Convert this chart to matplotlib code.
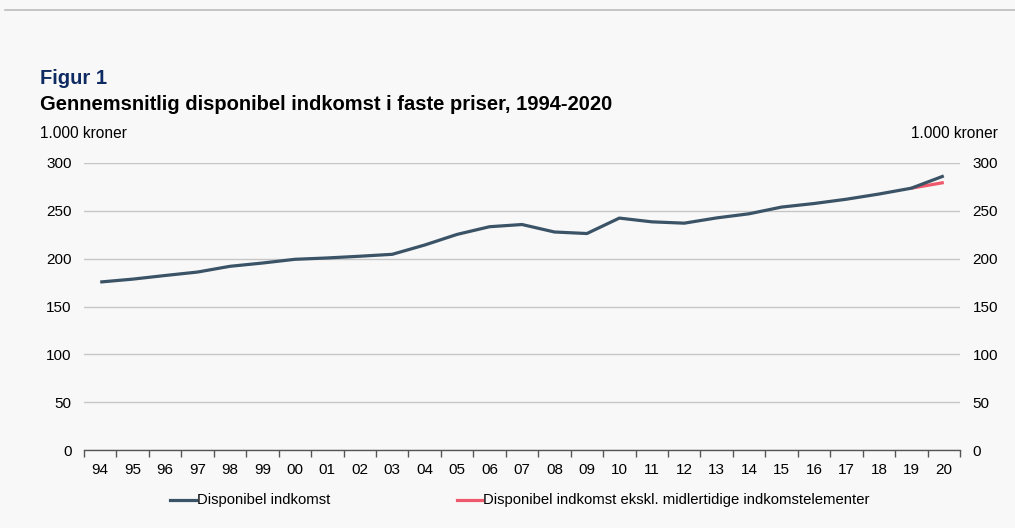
import numpy as np
import matplotlib.pyplot as plt

plt.rcParams['font.family'] = ['Liberation Sans', 'DejaVu Sans']

# data (1.000 kr, faste priser)
years = ["94", "95", "96", "97", "98", "99", "00", "01", "02", "03", "04",
         "05", "06", "07", "08", "09", "10", "11", "12", "13", "14", "15",
         "16", "17", "18", "19", "20"]
disp_ind = [175.6, 178.6, 182.4, 186.0, 192.0, 195.4, 199.3, 200.7, 202.5,
            204.5, 214.2, 225.3, 233.3, 235.6, 227.8, 226.2, 242.3, 238.4,
            237.0, 242.5, 246.8, 253.8, 257.5, 262.0, 267.4, 273.5, 286.3]
# red series only covers 2019-2020
excl_years = ["19", "20"]
excl_ind = [273.5, 279.4]

BG = "#f8f8f8"
DARK = "#3b5366"
RED = "#f0586b"

fig = plt.figure(figsize=(10.15, 5.28), dpi=100, facecolor=BG)
ax = fig.add_axes([84 / 1015, 1 - 450.3 / 528, 876 / 1015, 287.5 / 528])
ax.set_facecolor(BG)

x = np.arange(len(years))
pos = {y: i for i, y in enumerate(years)}
ax.plot(x, disp_ind, color=DARK, lw=2.3, solid_capstyle="butt", zorder=3)
ax.plot([pos[y] for y in excl_years], excl_ind, color=RED, lw=2.3,
        solid_capstyle="butt", zorder=2)

ax.set_xlim(-0.5, len(years) - 0.5)
ax.set_ylim(0, 300)
ax.set_yticks(range(0, 301, 50))
ax.grid(axis="y", color="#c6c6c6", lw=1)
ax.set_axisbelow(True)

# category axis: ticks between categories, labels centred
ax.set_xticks(np.arange(-0.5, len(years), 1.0))
ax.set_xticklabels([])
ax.set_xticks(x, minor=True)
ax.set_xticklabels(years, minor=True)
ax.tick_params(axis="x", which="major", length=5, width=1, color="#555555",
               direction="out")
ax.tick_params(axis="x", which="minor", length=0, pad=9, labelsize=11)
ax.tick_params(axis="y", length=0, labelleft=True, labelright=True,
               labelsize=11, pad=9)

for s in ["top", "right", "left"]:
    ax.spines[s].set_visible(False)
ax.spines["bottom"].set_color("#555555")
ax.spines["bottom"].set_linewidth(1)

# header
fig.add_artist(plt.Line2D([5 / 1015, 1], [1 - 10 / 528] * 2, color="#bdbdbd",
                          lw=1.2))
fig.text(40 / 1015, 1 - 78 / 528, "Figur 1", color="#0e2a62",
         fontsize=14.5, fontweight="bold", va="center")
fig.text(40 / 1015, 1 - 104 / 528,
         "Gennemsnitlig disponibel indkomst i faste priser, 1994-2020",
         fontsize=14.5, fontweight="bold", va="center")
fig.text(40 / 1015, 1 - 133 / 528, "1.000 kroner", fontsize=11.2, va="center")
fig.text(998 / 1015, 1 - 133 / 528, "1.000 kroner", fontsize=11.2,
         va="center", ha="right")

# legend
ly = 1 - 500 / 528
fig.add_artist(plt.Line2D([170 / 1015, 196 / 1015], [ly, ly], color=DARK,
                          lw=2.3))
fig.text(197 / 1015, ly, "Disponibel indkomst", fontsize=10.7, va="center")
fig.add_artist(plt.Line2D([457 / 1015, 482 / 1015], [ly, ly], color=RED,
                          lw=2.3))
fig.text(483 / 1015, ly,
         "Disponibel indkomst ekskl. midlertidige indkomstelementer",
         fontsize=10.7, va="center")

fig.savefig("out.png", dpi=100, facecolor=BG)
